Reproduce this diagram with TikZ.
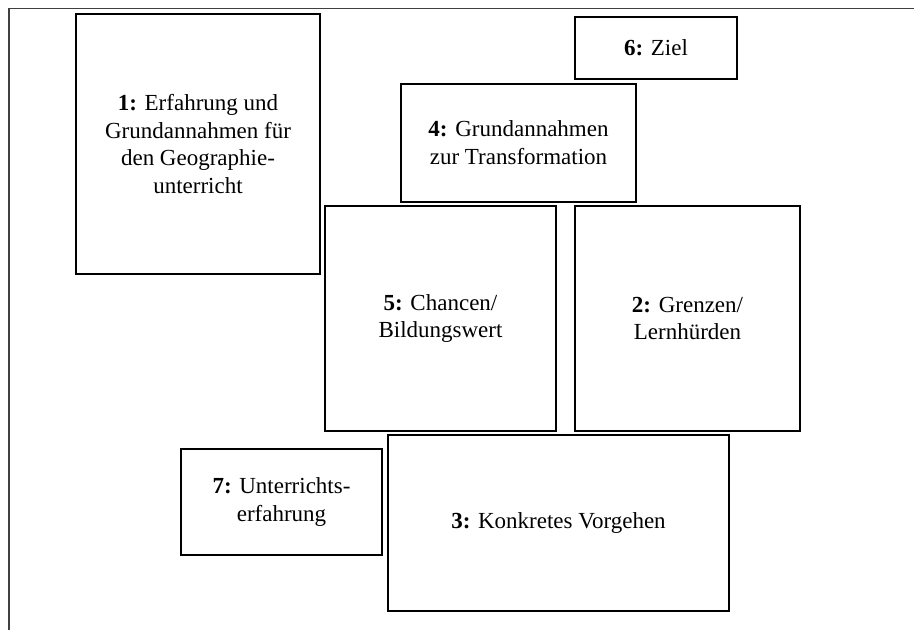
\documentclass[tikz,border=0pt]{standalone}
\usepackage{fontspec}
\setmainfont{Liberation Serif}
\begin{document}
\begin{tikzpicture}[x=1pt,y=-1pt,
  box/.style={draw=black, line width=1.7pt, rectangle, inner sep=0pt,
    align=center, font=\fontsize{23}{27.8}\selectfont},
  frameline/.style={draw=black!75, line width=1.1pt}]
\useasboundingbox (0,0) rectangle (914,630);
% page frame
\coordinate (ftl) at (9,8.5);
\coordinate (ftr) at (914,8.5);
\coordinate (fbl) at (9,630);
\draw[frameline] (ftr) -- (ftl) -- (fbl);
% boxes
\node[box, minimum width=244pt, minimum height=260pt] (n1) at (198,144)
  {\textbf{1:} Erfahrung und\\Grundannahmen für\\den Geographie-\\unterricht};
\node[box, minimum width=162pt, minimum height=62pt] (n6) at (656,48)
  {\textbf{6:} Ziel};
\node[box, minimum width=235pt, minimum height=118pt] (n4) at (518.5,143)
  {\textbf{4:} Grundannahmen\\zur Transformation};
\node[box, minimum width=231pt, minimum height=225pt] (n5) at (440.5,318.5)
  {\textbf{5:} Chancen/\\Bildungswert};
\node[box, minimum width=225pt, minimum height=225pt] (n2) at (687.5,318.5)
  {\textbf{2:} Grenzen/\\Lernhürden};
\node[box, minimum width=201pt, minimum height=106pt] (n7) at (281.5,502)
  {\textbf{7:} Unterrichts-\\erfahrung};
\node[box, minimum width=341pt, minimum height=176pt] (n3) at (558.5,523)
  {\textbf{3:} Konkretes Vorgehen};
\end{tikzpicture}
\end{document}
